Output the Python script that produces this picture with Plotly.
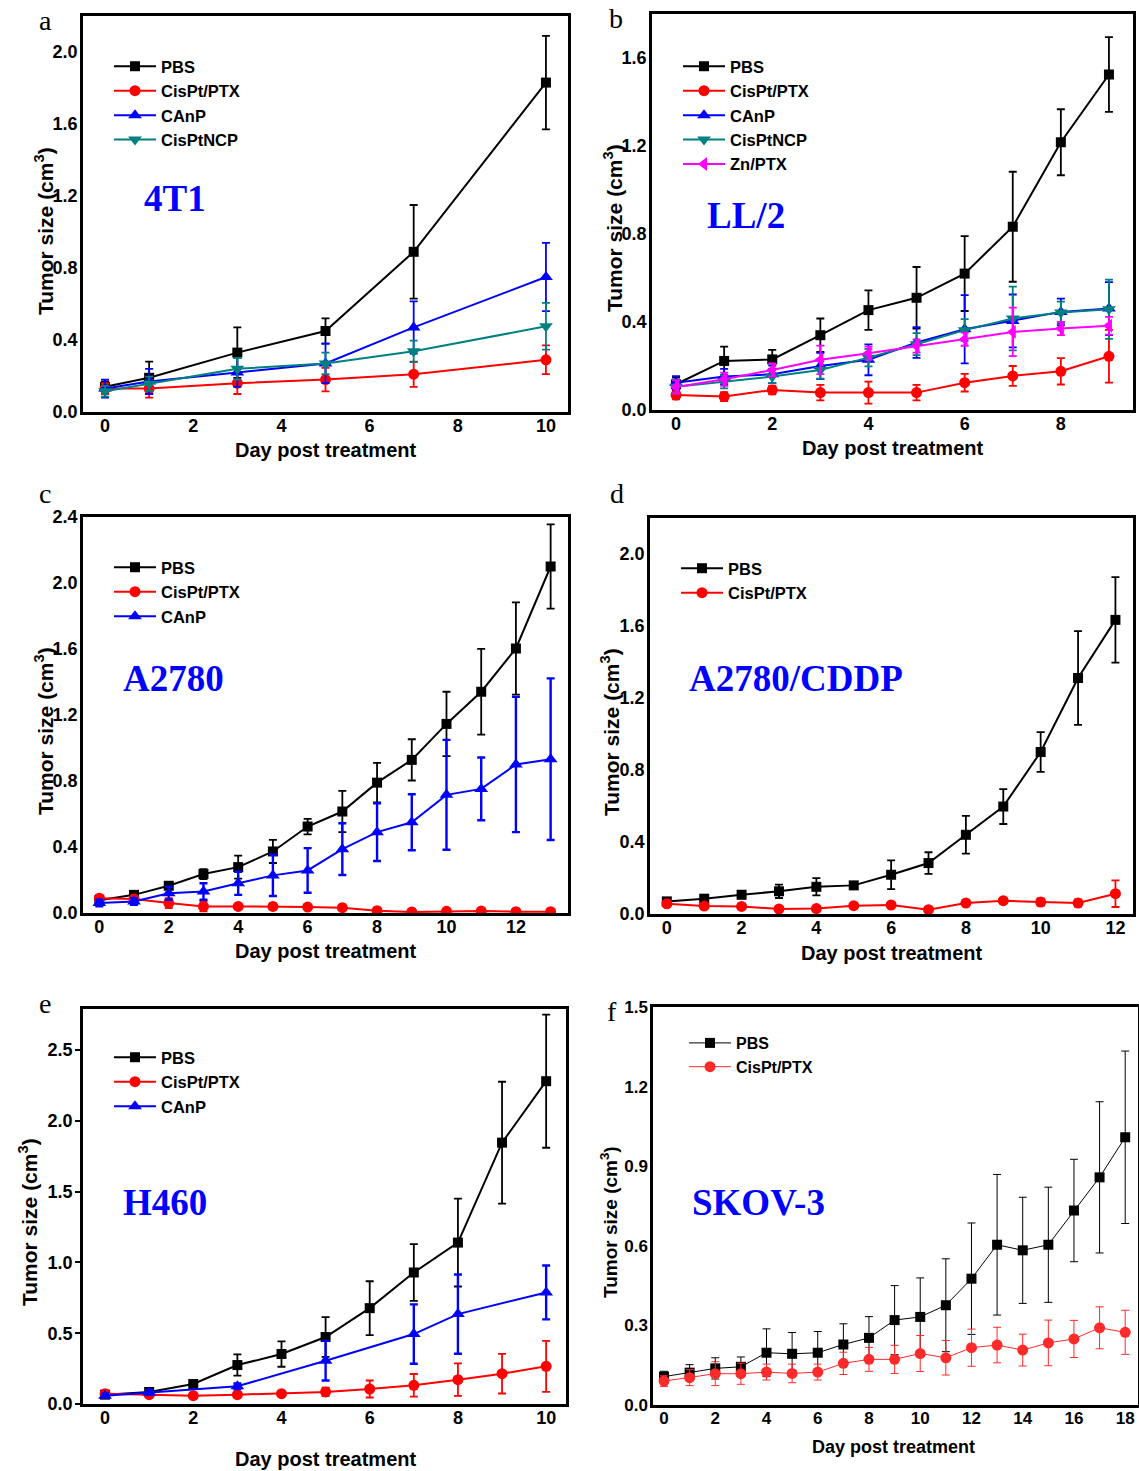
import plotly.graph_objects as go

W, H = 1139, 1471

# ---------------- data (tumor volume, cm^3; mean and error) ----------------
A_DAYS = [0, 1, 3, 5, 7, 10]
A_PBS = [0.14, 0.19, 0.33, 0.45, 0.89, 1.83]
A_PBS_ERR = [0.03, 0.09, 0.14, 0.07, 0.26, 0.26]
A_CIS = [0.13, 0.13, 0.16, 0.18, 0.21, 0.29]
A_CIS_ERR = [0.03, 0.05, 0.06, 0.065, 0.07, 0.08]
A_CANP = [0.13, 0.17, 0.22, 0.27, 0.47, 0.75]
A_CANP_ERR = [0.05, 0.07, 0.08, 0.11, 0.145, 0.19]
A_NCP = [0.115, 0.157, 0.24, 0.27, 0.337, 0.476]
A_NCP_ERR = [0.03, 0.04, 0.06, 0.06, 0.06, 0.13]

B_DAYS = [0, 1, 2, 3, 4, 5, 6, 7, 8, 9]
B_PBS = [0.117, 0.223, 0.23, 0.34, 0.454, 0.51, 0.62, 0.833, 1.217, 1.525]
B_PBS_ERR = [0.03, 0.065, 0.043, 0.076, 0.09, 0.14, 0.17, 0.25, 0.15, 0.17]
B_CIS = [0.068, 0.061, 0.091, 0.079, 0.079, 0.079, 0.124, 0.155, 0.176, 0.244]
B_CIS_ERR = [0.02, 0.02, 0.02, 0.035, 0.05, 0.035, 0.04, 0.045, 0.06, 0.12]
B_CANP = [0.124, 0.152, 0.162, 0.20, 0.228, 0.307, 0.367, 0.405, 0.446, 0.461]
B_CANP_ERR = [0.03, 0.035, 0.04, 0.06, 0.07, 0.07, 0.155, 0.12, 0.06, 0.12]
B_NCP = [0.106, 0.128, 0.152, 0.182, 0.238, 0.299, 0.363, 0.416, 0.443, 0.458]
B_NCP_ERR = [0.03, 0.03, 0.03, 0.04, 0.04, 0.05, 0.05, 0.145, 0.05, 0.135]
B_ZN = [0.105, 0.14, 0.182, 0.228, 0.258, 0.291, 0.322, 0.355, 0.37, 0.383]
B_ZN_ERR = [0.03, 0.03, 0.03, 0.065, 0.03, 0.03, 0.03, 0.11, 0.03, 0.04]

C_DAYS = list(range(14))
C_PBS = [0.077, 0.11, 0.165, 0.236, 0.278, 0.373, 0.524, 0.615, 0.79, 0.928,
         1.146, 1.341, 1.603, 2.10]
C_PBS_ERR = [0.02, 0.02, 0.02, 0.03, 0.07, 0.07, 0.047, 0.125, 0.12, 0.125,
             0.195, 0.26, 0.28, 0.255]
C_CIS = [0.09, 0.085, 0.06, 0.04, 0.04, 0.04, 0.036, 0.032, 0.014, 0.006,
         0.01, 0.012, 0.008, 0.008]
C_CIS_ERR = [0.02, 0.02, 0.03, 0.03, 0.01, 0.01, 0.01, 0.01, 0.01, 0.005,
             0.01, 0.01, 0.005, 0.005]
C_CANP = [0.06, 0.07, 0.12, 0.13, 0.18, 0.228, 0.258, 0.387, 0.49, 0.55,
          0.716, 0.752, 0.90, 0.932]
C_CANP_ERR = [0.02, 0.02, 0.04, 0.05, 0.07, 0.125, 0.135, 0.157, 0.175, 0.17,
              0.333, 0.19, 0.41, 0.49]

D_DAYS = list(range(13))
D_PBS = [0.07, 0.085, 0.107, 0.126, 0.151, 0.159, 0.218, 0.283, 0.44, 0.597,
         0.90, 1.311, 1.634]
D_PBS_ERR = [0.01, 0.01, 0.02, 0.037, 0.048, 0.015, 0.08, 0.06, 0.105, 0.097,
             0.11, 0.26, 0.237]
D_CIS = [0.057, 0.044, 0.042, 0.028, 0.03, 0.046, 0.05, 0.024, 0.061, 0.074,
         0.066, 0.061, 0.113]
D_CIS_ERR = [0.015, 0.015, 0.015, 0.015, 0.015, 0.01, 0.015, 0.01, 0.01, 0.015,
             0.02, 0.02, 0.074]

E_DAYS = list(range(11))
E_PBS = [0.066, 0.085, 0.141, 0.275, 0.353, 0.473, 0.677, 0.929, 1.14, 1.846, 2.28]
E_PBS_ERR = [0.01, 0.015, 0.02, 0.075, 0.09, 0.14, 0.19, 0.2, 0.31, 0.43, 0.47]
E_CIS = [0.073, 0.066, 0.059, 0.066, 0.073, 0.085, 0.106, 0.132, 0.172, 0.214, 0.266]
E_CIS_ERR = [0.015, 0.015, 0.015, 0.015, 0.015, 0.03, 0.06, 0.08, 0.115, 0.14, 0.18]
E_CANP_DAYS = [0, 1, 3, 5, 7, 8, 10]
E_CANP = [0.059, 0.082, 0.125, 0.306, 0.494, 0.635, 0.788]
E_CANP_ERR = [0.015, 0.015, 0.02, 0.14, 0.21, 0.28, 0.19]

F_DAYS = list(range(19))
F_PBS = [0.107, 0.122, 0.138, 0.144, 0.197, 0.193, 0.197, 0.228, 0.253, 0.32,
         0.332, 0.376, 0.476, 0.604, 0.583, 0.604, 0.733, 0.858, 1.009]
F_PBS_ERR = [0.02, 0.03, 0.04, 0.037, 0.09, 0.08, 0.08, 0.078, 0.08, 0.13,
             0.147, 0.175, 0.21, 0.265, 0.2, 0.217, 0.193, 0.285, 0.325]
F_CIS = [0.09, 0.103, 0.118, 0.118, 0.124, 0.119, 0.124, 0.157, 0.172, 0.172,
         0.194, 0.178, 0.216, 0.226, 0.207, 0.234, 0.249, 0.291, 0.274]
F_CIS_ERR = [0.02, 0.03, 0.045, 0.04, 0.03, 0.035, 0.03, 0.042, 0.045, 0.053,
             0.068, 0.065, 0.07, 0.067, 0.06, 0.086, 0.07, 0.079, 0.083]

# ---------------- styles ----------------
SANS = "Liberation Sans, Arial, sans-serif"
SERIF = "Liberation Serif, Times New Roman, serif"
BLACK, RED, BLUE, TEAL, MAGENTA = "#000000", "#ff0000", "#0000ff", "#008080", "#ff00ff"
MARK = {"PBS": ("square", BLACK, 10), "CisPt/PTX": ("circle", RED, 11),
        "CAnP": ("triangle-up", BLUE, 12), "CisPtNCP": ("triangle-down", TEAL, 12),
        "Zn/PTX": ("triangle-left", MAGENTA, 12)}


def px_x(p):
    return p / W


def px_y(p):
    return 1 - p / H


# panel geometry in pixels: (left, right, top, bottom)
PANELS = {
    1: dict(box=(83, 568, 16, 412), xr=[-0.5, 10.5], yr=[0, 2.2], dy=0.4),
    2: dict(box=(652, 1133, 14, 410), xr=[-0.5, 9.5], yr=[0, 1.8], dy=0.4),
    3: dict(box=(83, 568, 517, 913), xr=[-0.47, 13.5], yr=[0, 2.4], dy=0.4),
    4: dict(box=(650, 1133, 518, 914), xr=[-0.45, 12.47], yr=[0, 2.2], dy=0.4),
    5: dict(box=(83, 566, 1009, 1404), xr=[-0.5, 10.45], yr=[0, 2.79], dy=0.5),
    6: dict(box=(653, 1138, 1007, 1405), xr=[-0.43, 18.5], yr=[0, 1.5], dy=0.3),
}

fig = go.Figure()


def add_series(k, name, days, vals, errs, lw=2.0, ew=1.8, color=None, show=True):
    sym, col, size = MARK[name]
    if color:
        col = color
    suffix = "" if k == 1 else str(k)
    fig.add_trace(go.Scatter(
        x=days, y=vals, name=name, mode="lines+markers",
        line=dict(color=col, width=lw),
        marker=dict(symbol=sym, color=col, size=size, line=dict(width=0)),
        error_y=dict(type="data", array=errs, visible=True, color=col,
                     thickness=ew, width=4),
        xaxis="x" + suffix, yaxis="y" + suffix,
        legend="legend" + suffix, showlegend=show,
    ))


add_series(1, "PBS", A_DAYS, A_PBS, A_PBS_ERR)
add_series(1, "CisPt/PTX", A_DAYS, A_CIS, A_CIS_ERR)
add_series(1, "CAnP", A_DAYS, A_CANP, A_CANP_ERR)
add_series(1, "CisPtNCP", A_DAYS, A_NCP, A_NCP_ERR)

add_series(2, "PBS", B_DAYS, B_PBS, B_PBS_ERR)
add_series(2, "CisPt/PTX", B_DAYS, B_CIS, B_CIS_ERR)
add_series(2, "CAnP", B_DAYS, B_CANP, B_CANP_ERR)
add_series(2, "CisPtNCP", B_DAYS, B_NCP, B_NCP_ERR)
add_series(2, "Zn/PTX", B_DAYS, B_ZN, B_ZN_ERR)

add_series(3, "PBS", C_DAYS, C_PBS, C_PBS_ERR)
add_series(3, "CisPt/PTX", C_DAYS, C_CIS, C_CIS_ERR)
add_series(3, "CAnP", C_DAYS, C_CANP, C_CANP_ERR, ew=2.4)

add_series(4, "PBS", D_DAYS, D_PBS, D_PBS_ERR)
add_series(4, "CisPt/PTX", D_DAYS, D_CIS, D_CIS_ERR)

add_series(5, "PBS", E_DAYS, E_PBS, E_PBS_ERR)
add_series(5, "CisPt/PTX", E_DAYS, E_CIS, E_CIS_ERR)
add_series(5, "CAnP", E_CANP_DAYS, E_CANP, E_CANP_ERR, ew=2.4)

add_series(6, "PBS", F_DAYS, F_PBS, F_PBS_ERR, lw=1.0, ew=1.0)
add_series(6, "CisPt/PTX", F_DAYS, F_CIS, F_CIS_ERR, lw=1.0, ew=1.0, color="#ff2a2a")

layout = dict(
    width=W, height=H, margin=dict(l=0, r=0, t=0, b=0, pad=0, autoexpand=False),
    paper_bgcolor="white", plot_bgcolor="white",
    font=dict(family=SANS, color="black"),
)

# legend placement (pixels: left, top)
LEGEND_POS = {1: (109, 49), 2: (678, 49), 3: (109, 550), 4: (676, 551),
              5: (109, 1040), 6: (684, 1026)}

for k, p in PANELS.items():
    l, r, t, b = p["box"]
    s = "" if k == 1 else str(k)
    small = k == 6
    tickfont = dict(family=SANS, size=17 if small else 18, weight="bold", color="black")
    layout["xaxis" + s] = dict(
        domain=[px_x(l), px_x(r)], range=p["xr"], anchor="y" + s,
        dtick=2, tick0=0, showgrid=False, zeroline=False, automargin=False,
        showline=True, linewidth=2.5, linecolor="black", mirror=True,
        ticks="", tickfont=tickfont, ticklabelstandoff=-4,
    )
    layout["yaxis" + s] = dict(
        domain=[px_y(b), px_y(t)], range=p["yr"], anchor="x" + s,
        dtick=p["dy"], tick0=0, tickformat=".1f", showgrid=False, zeroline=False,
        automargin=False,
        showline=True, linewidth=2.5, linecolor="black", mirror=True,
        ticks="outside" if k == 5 else "", ticklen=5, tickwidth=2,
        tickcolor="black", tickfont=tickfont, ticklabelstandoff=-1,
    )
    lx, ly = LEGEND_POS[k]
    layout["legend" + s] = dict(
        x=px_x(lx), y=px_y(ly), xanchor="left", yanchor="top",
        bgcolor="rgba(0,0,0,0)", borderwidth=0, itemwidth=42,
        font=dict(family=SANS, size=16 if small else 16.5, weight="bold", color="black"),
        tracegroupgap=0, itemclick=False,
    )

fig.update_layout(**layout)

# axis titles, panel letters and cell-line labels
ann = []
XT = {1: (325, 450), 2: (892, 448), 3: (325, 951), 4: (891, 953),
      5: (325, 1459), 6: (894, 1447)}
YT = {1: (44, 231), 2: (613, 228), 3: (44, 731), 4: (610, 732),
      5: (28, 1222), 6: (609, 1222)}


def label(text, cx, cy, font, angle=0):
    ann.append(dict(text=text, x=px_x(cx), y=px_y(cy), xref="paper", yref="paper",
                    xanchor="center", yanchor="middle", showarrow=False,
                    textangle=angle, font=font))


for k in PANELS:
    small = k == 6
    fx, fy = XT[k]
    label("Day post treatment", fx, fy,
          dict(family=SANS, size=18 if small else 20, weight="bold"))
    gx, gy = YT[k]
    label("Tumor size (cm<sup>3</sup>)", gx, gy,
          dict(family=SANS, size=19 if small else 21, weight="bold"), angle=-90)

LETTERS = {"a": (45, 21), "b": (616, 19), "c": (45, 493), "d": (617, 493),
           "e": (45, 1003), "f": (612, 1011)}
for t, (lx, ly) in LETTERS.items():
    label(t, lx, ly, dict(family=SERIF, size=28, color="black"))

CELL = {"4T1": (175, 199), "LL/2": (746, 216), "A2780": (173, 678),
        "A2780/CDDP": (796, 678), "H460": (165, 1202), "SKOV-3": (758, 1202)}
for t, (cx, cy) in CELL.items():
    label(t, cx, cy, dict(family=SERIF, size=37, weight="bold", color="#0000ff"))

fig.update_layout(annotations=ann)
fig.write_html("out.html")
